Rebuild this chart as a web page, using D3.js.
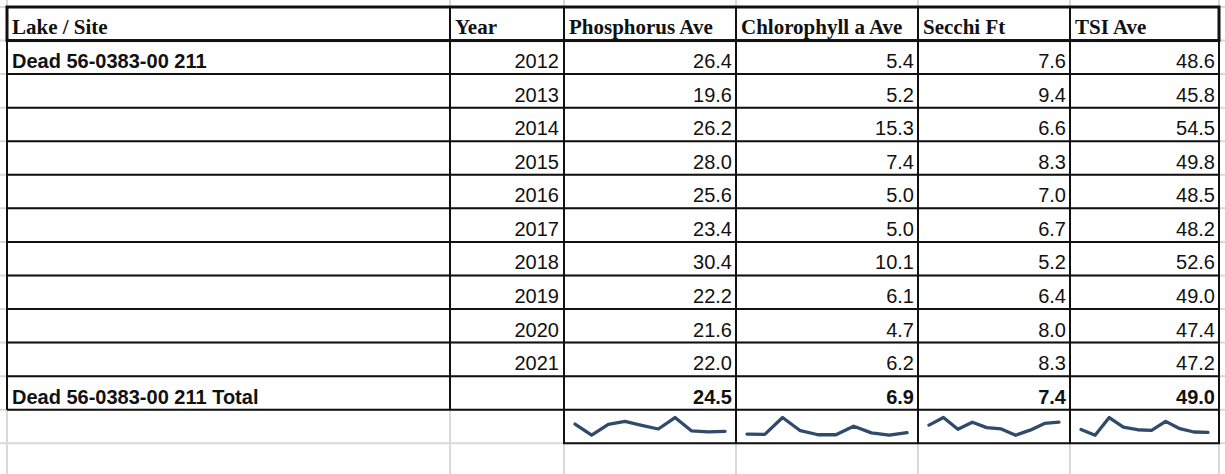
<!DOCTYPE html>
<html>
<head>
<meta charset="utf-8">
<script src="https://cdn.jsdelivr.net/npm/d3@7"></script>
<style>
  body { margin: 0; background: #fff; }
</style>
</head>
<body>
<div class="d3-visualize"></div>
<script>
var siteName = "Dead 56-0383-00 211";
var headers = ["Lake / Site", "Year", "Phosphorus Ave", "Chlorophyll a Ave", "Secchi Ft", "TSI Ave"];
var years = [2012, 2013, 2014, 2015, 2016, 2017, 2018, 2019, 2020, 2021];
var phosphorus = [26.4, 19.6, 26.2, 28.0, 25.6, 23.4, 30.4, 22.2, 21.6, 22.0];
var chlorophyll = [5.4, 5.2, 15.3, 7.4, 5.0, 5.0, 10.1, 6.1, 4.7, 6.2];
var secchi = [7.6, 9.4, 6.6, 8.3, 7.0, 6.7, 5.2, 6.4, 8.0, 8.3];
var tsi = [48.6, 45.8, 54.5, 49.8, 48.5, 48.2, 52.6, 49.0, 47.4, 47.2];
var totals = [24.5, 6.9, 7.4, 49.0];

function drawTable() {
    var width = 1225,
        height = 474,
        colEdges = [7, 450, 564, 736, 918, 1070, 1219],
        gridColor = "#d9d9d9",
        lineColor = "#111",
        sparkColor = "#2f4a6b",
        fmt = d3.format(".1f");

    var measures = [phosphorus, chlorophyll, secchi, tsi];

    // one band per spreadsheet row: header, years, total, sparklines
    var rowKeys = ["header"].concat(years.map(String), ["total", "spark"]);
    var y = d3.scaleBand().domain(rowKeys).range([7, 443.3]).padding(0);
    var bh = y.bandwidth();

    var svg = d3.select('.d3-visualize').append('svg')
        .attr('width', width)
        .attr('height', height)
        .style('display', 'block')
        .style('background', '#fff');

    // sheet gridlines
    var grid = svg.append('g').attr('stroke', gridColor).attr('stroke-width', 2);
    grid.selectAll('line.v').data(colEdges).enter().append('line')
        .attr('x1', function (d) { return d; })
        .attr('x2', function (d) { return d; })
        .attr('y1', 0)
        .attr('y2', height);
    grid.selectAll('line.h').data(rowKeys).enter().append('line')
        .attr('x1', 0)
        .attr('x2', width)
        .attr('y1', function (d) { return y(d) + bh; })
        .attr('y2', function (d) { return y(d) + bh; });
    grid.append('line').attr('x1', 0).attr('x2', width).attr('y1', y("header")).attr('y2', y("header"));

    // cell borders for header, year rows and total row
    var tableRows = rowKeys.slice(0, rowKeys.length - 1);
    var borders = svg.append('g').attr('stroke', lineColor).attr('stroke-width', 2).attr('fill', 'none');
    tableRows.forEach(function (r) {
        borders.append('line')
            .attr('x1', colEdges[0]).attr('x2', colEdges[colEdges.length - 1])
            .attr('y1', y(r) + bh).attr('y2', y(r) + bh);
    });
    borders.selectAll('line.col').data(colEdges).enter().append('line')
        .attr('x1', function (d) { return d; })
        .attr('x2', function (d) { return d; })
        .attr('y1', y("header"))
        .attr('y2', y("total") + bh);
    // sparkline box
    borders.selectAll('line.sp').data(colEdges.slice(2)).enter().append('line')
        .attr('x1', function (d) { return d; })
        .attr('x2', function (d) { return d; })
        .attr('y1', y("spark"))
        .attr('y2', y("spark") + bh);
    borders.append('line')
        .attr('x1', colEdges[2] - 1).attr('x2', colEdges[6] + 1)
        .attr('y1', y("spark") + bh).attr('y2', y("spark") + bh);
    // heavier box round the header
    svg.append('rect')
        .attr('x', colEdges[0])
        .attr('y', y("header"))
        .attr('width', colEdges[6] - colEdges[0])
        .attr('height', bh)
        .attr('fill', 'none')
        .attr('stroke', lineColor)
        .attr('stroke-width', 3);

    // header text
    svg.append('g').selectAll('text').data(headers).enter().append('text')
        .attr('x', function (d, i) { return colEdges[i] + 5; })
        .attr('y', y("header") + 26.5)
        .style('font-family', '"Liberation Serif", "DejaVu Serif", serif')
        .style('font-weight', 'bold')
        .style('font-size', '21px')
        .attr('fill', '#111')
        .text(function (d) { return d; });

    var body = svg.append('g')
        .style('font-family', '"Liberation Sans", Arial, sans-serif')
        .style('font-size', '20px')
        .attr('fill', '#111');

    // site labels
    body.append('text')
        .attr('x', colEdges[0] + 5)
        .attr('y', y(String(years[0])) + bh - 6)
        .style('font-weight', 'bold')
        .text(siteName);
    body.append('text')
        .attr('x', colEdges[0] + 5)
        .attr('y', y("total") + bh - 6)
        .style('font-weight', 'bold')
        .text(siteName + " Total");

    // years
    body.selectAll('text.year').data(years).enter().append('text')
        .attr('x', colEdges[2] - 5)
        .attr('y', function (d) { return y(String(d)) + bh - 6; })
        .attr('text-anchor', 'end')
        .text(function (d) { return d; });

    // measure values, totals and sparklines
    measures.forEach(function (vals, m) {
        var left = colEdges[m + 2],
            right = colEdges[m + 3];

        body.selectAll('text.m' + m).data(vals).enter().append('text')
            .attr('x', right - 4)
            .attr('y', function (d, i) { return y(String(years[i])) + bh - 6; })
            .attr('text-anchor', 'end')
            .text(function (d) { return fmt(d); });

        body.append('text')
            .attr('x', right - 4)
            .attr('y', y("total") + bh - 6)
            .attr('text-anchor', 'end')
            .style('font-weight', 'bold')
            .text(fmt(totals[m]));

        var sx = d3.scaleLinear().domain([0, vals.length - 1]).range([left + 11, right - 11]);
        var sy = d3.scaleLinear().domain(d3.extent(vals)).range([y("spark") + 25.5, y("spark") + 7.8]);
        var line = d3.line()
            .x(function (d, i) { return sx(i); })
            .y(function (d) { return sy(d); });

        svg.append('path')
            .datum(vals)
            .attr('d', line)
            .attr('fill', 'none')
            .attr('stroke', sparkColor)
            .attr('stroke-width', 3.3)
            .attr('stroke-linejoin', 'round')
            .attr('stroke-linecap', 'round');
    });
}

drawTable();
</script>
</body>
</html>
